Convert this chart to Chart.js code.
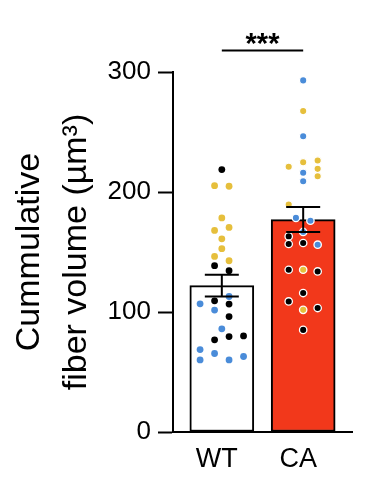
<!DOCTYPE html>
<html><head><meta charset="utf-8">
<script src="https://cdn.jsdelivr.net/npm/chart.js@4.4.1/dist/chart.umd.min.js"></script>
<style>html,body{margin:0;padding:0;background:#fff;}</style>
</head><body>
<canvas id="c" width="369" height="493" style="width:369px;height:493px;display:block"></canvas>
<script>
// ---- data ----
const categories = ['WT', 'CA'];
const barMeans = [122, 177];
const barSEM = [9.1, 10.4];
const yTicks = [0, 100, 200, 300];

const wtValues = [218.7, 205.3, 204.8, 178.4, 170.5, 168, 161, 152.8, 146.3, 142.7, 138.6, 134.4, 112.9, 106.8, 109.3, 106.6, 101.6, 96.2, 86, 79.5, 80.1, 76.8, 68.7, 65.4, 60.1, 60.1, 62.9];
const wtGroups = ['k','y','y','y','y','y','y','y','y','y','k','k','b','b','k','k','b','k','b','k','k','k','b','b','b','b','b'];
const wtJitter = [0, -1, 1, 0, 1, -1, 0, 0, -1, 1, -1, 1, 1, -3, -1, 1, -1, 1, 0, 1, 3, -1, -3, -1, -3, 1, 3];

const caValues = [293, 267.4, 246.5, 221, 224.8, 226.2, 219.3, 216, 213.1, 208.9, 189.5, 178.4, 176.1, 166.7, 163, 156.7, 157.5, 156.1, 135.2, 135.2, 133.8, 115.8, 108.8, 101.8, 103.3, 85.1];
const caGroups = ['b','y','b','y','y','y','y','b','y','b','y','b','b','b','k','k','k','b','k','y','k','k','k','y','k','k'];
const caJitter = [0, 0, 0, -2, 0, 2, 2, 0, 2, 0, -2, -1, 1, 0, -2, -2, 0, 2, -2, 0, 2, 0, -2, 0, 2, 0];

const sigLabel = '***';
const sigLevel = 318;

// ---- styles ----
const FONT = "'Liberation Sans', Arial, Helvetica, sans-serif";
const groupColor = { k: '#000000', y: '#E6BF3C', b: '#4A8CD9' };
const barFill = ['#ffffff', '#F2381B'];
const JIT = 0.089;

function pts(values, jit, idx) {
  return values.map((v, i) => ({ x: idx + jit[i] * JIT, y: v }));
}

const errorBars = {
  id: 'errorBars',
  afterDatasetsDraw(chart) {
    const { ctx, scales: { x, y } } = chart;
    ctx.save();
    ctx.strokeStyle = '#000';
    ctx.lineWidth = 2;
    barMeans.forEach((m, i) => {
      const px = x.getPixelForValue(i);
      const top = y.getPixelForValue(m + barSEM[i]);
      const bot = y.getPixelForValue(m - barSEM[i]);
      ctx.beginPath();
      ctx.moveTo(px, top); ctx.lineTo(px, bot);
      ctx.moveTo(px - 17, top); ctx.lineTo(px + 17, top);
      ctx.moveTo(px - 17, bot); ctx.lineTo(px + 17, bot);
      ctx.stroke();
    });
    // significance
    const sy = y.getPixelForValue(sigLevel);
    const x0 = x.getPixelForValue(0), x1 = x.getPixelForValue(1);
    ctx.beginPath();
    ctx.moveTo(x0, sy); ctx.lineTo(x1, sy);
    ctx.stroke();
    ctx.fillStyle = '#000';
    ctx.font = "bold 29px " + FONT;
    ctx.textAlign = 'center';
    ctx.textBaseline = 'alphabetic';
    ctx.fillText(sigLabel, (x0 + x1) / 2, sy + 3);
    ctx.restore();
  }
};

new Chart(document.getElementById('c'), {
  type: 'bar',
  data: {
    datasets: [
      {
        type: 'scatter',
        label: 'WT points',
        data: pts(wtValues, wtJitter, 0),
        pointBackgroundColor: wtGroups.map(g => groupColor[g]),
        pointBorderColor: '#ffffff',
        pointBorderWidth: 0,
        pointRadius: 3.4,
        order: 0
      },
      {
        type: 'scatter',
        label: 'CA points',
        data: pts(caValues, caJitter, 1),
        pointBackgroundColor: caGroups.map(g => groupColor[g]),
        pointBorderColor: '#ffffff',
        pointBorderWidth: 1.3,
        pointRadius: 3.7,
        order: 0
      },
      {
        type: 'bar',
        label: 'mean',
        data: barMeans.map((m, i) => ({ x: i, y: m })),
        backgroundColor: barFill,
        borderColor: '#000',
        borderWidth: 2,
        borderSkipped: false,
        barThickness: 64,
        order: 1
      }
    ]
  },
  options: {
    responsive: false,
    devicePixelRatio: 1,
    animation: false,
    layout: { padding: { top: 72, right: 17, bottom: 0, left: 0 } },
    plugins: { legend: { display: false }, tooltip: { enabled: false } },
    scales: {
      x: {
        type: 'linear',
        min: -0.6, max: 1.6,
        offset: false,
        afterBuildTicks: s => { s.ticks = categories.map((c, i) => ({ value: i })); },
        afterFit: s => { s.height = 61; },
        grid: { display: false, drawTicks: false, offset: false },
        border: { display: true, color: '#000', width: 2 },
        ticks: {
          color: '#000', font: { family: FONT, size: 27 }, padding: 11, labelOffset: -5,
          maxRotation: 0, autoSkip: false,
          callback: v => categories[v] !== undefined ? categories[v] : ''
        }
      },
      y: {
        min: 0, max: 300,
        afterBuildTicks: s => { s.ticks = yTicks.map(v => ({ value: v })); },
        afterFit: s => { s.width = 173; },
        grid: { drawOnChartArea: false, drawTicks: true, tickLength: 15, tickWidth: 2, tickColor: '#000' },
        border: { display: true, color: '#000', width: 2 },
        ticks: { color: '#000', font: { family: FONT, size: 26 }, padding: 7 },
        title: {
          display: true,
          text: ['Cummulative', 'fiber volume (µm³)'],
          color: '#000',
          font: { family: FONT, size: 34, lineHeight: 1.38 },
          padding: { top: 6, bottom: 0 }
        }
      }
    }
  },
  plugins: [errorBars]
});
</script>
</body></html>
